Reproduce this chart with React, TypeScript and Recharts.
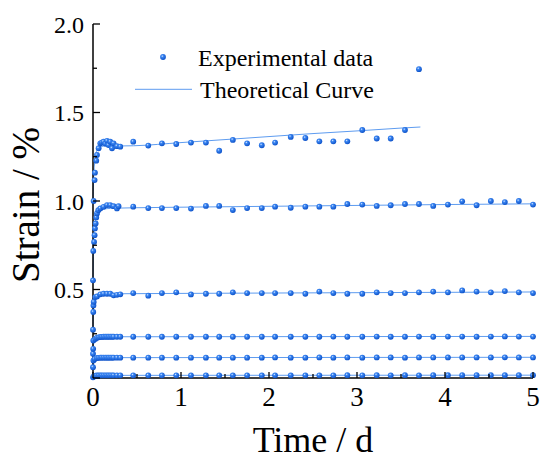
import React from 'react';
import { ComposedChart, Line, Scatter, XAxis, YAxis, Legend } from 'recharts';

// ---------- data ----------
// long-term sampling times (d)
const T_LONG = [0.457, 0.628, 0.783, 0.946, 1.113, 1.283, 1.434, 1.589, 1.751, 1.918, 2.069, 2.247, 2.413, 2.572, 2.731, 2.89, 3.06, 3.224, 3.383, 3.545, 3.704, 3.866, 4.033, 4.195, 4.359, 4.521, 4.68, 4.839, 5.0];

// series 1 (highest load) – early part
const S1_EARLY_T = [0.007, 0.018, 0.022, 0.037, 0.045, 0.064, 0.083, 0.1, 0.12, 0.14, 0.159, 0.177, 0.196, 0.216, 0.234, 0.272, 0.31];
const S1_EARLY_V = [1.0, 1.118, 1.16, 1.228, 1.26, 1.298, 1.326, 1.33, 1.335, 1.325, 1.34, 1.316, 1.335, 1.298, 1.326, 1.31, 1.307];
const S1_LONG_V = [1.335, 1.313, 1.326, 1.322, 1.33, 1.33, 1.284, 1.345, 1.326, 1.315, 1.33, 1.362, 1.356, 1.337, 1.337, 1.337, 1.401, 1.353, 1.353, 1.401, 1.745];

const S2_EARLY_T = [0.0, 0.003, 0.012, 0.018, 0.022, 0.03, 0.037, 0.045, 0.06, 0.083, 0.12, 0.159, 0.196, 0.234, 0.272, 0.29];
const S2_EARLY_V = [0.552, 0.718, 0.769, 0.807, 0.845, 0.873, 0.907, 0.93, 0.948, 0.958, 0.967, 0.977, 0.977, 0.971, 0.958, 0.971];
const S2_LONG_V = [0.968, 0.96, 0.96, 0.96, 0.957, 0.972, 0.972, 0.949, 0.96, 0.96, 0.968, 0.962, 0.968, 0.968, 0.968, 0.983, 0.98, 0.972, 0.976, 0.983, 0.983, 0.972, 0.98, 0.998, 0.976, 1.0, 0.994, 1.0, 0.98];

const S3_EARLY_T = [0.0, 0.003, 0.005, 0.008, 0.026, 0.045, 0.083, 0.12, 0.159, 0.196, 0.234, 0.272, 0.31];
const S3_EARLY_V = [0.273, 0.373, 0.41, 0.43, 0.457, 0.461, 0.473, 0.476, 0.476, 0.476, 0.467, 0.47, 0.473];
const S3_LONG_V = [0.48, 0.465, 0.48, 0.484, 0.472, 0.476, 0.476, 0.484, 0.48, 0.48, 0.48, 0.48, 0.476, 0.488, 0.48, 0.476, 0.476, 0.484, 0.48, 0.48, 0.484, 0.488, 0.484, 0.495, 0.488, 0.484, 0.491, 0.484, 0.48];

const S4_EARLY_T = [0.0, 0.002, 0.004, 0.026, 0.045, 0.064, 0.083, 0.1, 0.12, 0.14, 0.159, 0.177, 0.196, 0.216, 0.234, 0.272, 0.31];
const S4_EARLY_V = [0.137, 0.165, 0.212, 0.221, 0.228, 0.23, 0.232, 0.232, 0.233, 0.233, 0.233, 0.233, 0.233, 0.233, 0.233, 0.233, 0.233];
const S4_LONG_V = [0.233, 0.233, 0.233, 0.233, 0.233, 0.233, 0.233, 0.233, 0.233, 0.233, 0.233, 0.233, 0.233, 0.233, 0.234, 0.233, 0.233, 0.234, 0.233, 0.233, 0.234, 0.233, 0.234, 0.234, 0.233, 0.234, 0.235, 0.234, 0.234];

const S5_EARLY_T = [0.0, 0.005, 0.02, 0.045, 0.064, 0.083, 0.1, 0.12, 0.14, 0.159, 0.177, 0.196, 0.216, 0.234, 0.272, 0.31];
const S5_EARLY_V = [0.061, 0.099, 0.108, 0.113, 0.114, 0.115, 0.115, 0.115, 0.115, 0.115, 0.115, 0.115, 0.115, 0.115, 0.115, 0.115];
const S5_LONG_V = [0.115, 0.115, 0.115, 0.115, 0.115, 0.115, 0.115, 0.115, 0.115, 0.115, 0.116, 0.115, 0.115, 0.116, 0.115, 0.116, 0.115, 0.116, 0.116, 0.115, 0.116, 0.116, 0.116, 0.116, 0.116, 0.116, 0.117, 0.116, 0.116];

const S6_EARLY_T = [0.0, 0.01, 0.03, 0.045, 0.064, 0.083, 0.1, 0.12, 0.14, 0.159, 0.177, 0.196, 0.216, 0.234, 0.272, 0.31];
const S6_EARLY_V = [0.004, 0.01, 0.013, 0.014, 0.014, 0.015, 0.015, 0.015, 0.015, 0.015, 0.015, 0.015, 0.015, 0.015, 0.015, 0.015];
const S6_LONG_V = [0.015, 0.015, 0.015, 0.015, 0.015, 0.015, 0.015, 0.015, 0.015, 0.015, 0.015, 0.015, 0.015, 0.015, 0.015, 0.016, 0.015, 0.016, 0.015, 0.016, 0.015, 0.016, 0.016, 0.016, 0.016, 0.016, 0.016, 0.016, 0.016];

// theoretical curves
const C1_T = [0, 0.005, 0.01, 0.02, 0.03, 0.05, 0.08, 0.12, 0.2, 0.3, 0.46, 1, 1.5, 2, 2.5, 3, 3.5, 3.72];
const C1_V = [1.0, 1.1, 1.16, 1.22, 1.26, 1.29, 1.305, 1.31, 1.31, 1.311, 1.312, 1.33, 1.347, 1.364, 1.381, 1.396, 1.412, 1.418];
const C2_T = [0, 0.005, 0.01, 0.02, 0.03, 0.05, 0.08, 0.12, 0.2, 0.3, 0.5, 1, 2, 3, 4, 5];
const C2_V = [0.55, 0.72, 0.79, 0.85, 0.9, 0.935, 0.95, 0.955, 0.958, 0.96, 0.962, 0.965, 0.97, 0.975, 0.98, 0.984];
const C3_T = [0, 0.003, 0.01, 0.02, 0.04, 0.08, 0.15, 0.3, 1, 2, 3, 4, 5];
const C3_V = [0.273, 0.37, 0.42, 0.45, 0.465, 0.472, 0.474, 0.476, 0.478, 0.48, 0.482, 0.484, 0.486];
const C4_T = [0, 0.003, 0.01, 0.03, 0.08, 0.3, 5];
const C4_V = [0.137, 0.19, 0.215, 0.228, 0.232, 0.233, 0.235];
const C5_T = [0, 0.005, 0.02, 0.06, 0.3, 5];
const C5_V = [0.061, 0.095, 0.108, 0.113, 0.115, 0.117];
const C6_T = [0, 0.01, 0.04, 0.3, 5];
const C6_V = [0.004, 0.01, 0.013, 0.015, 0.016];

const X_TICKS = [0, 0.5, 1, 1.5, 2, 2.5, 3, 3.5, 4, 4.5, 5];
const Y_TICKS = [0, 0.25, 0.5, 0.75, 1, 1.25, 1.5, 1.75, 2];
const LEGEND_LABELS = ['Experimental data', 'Theoretical Curve'];

// ---------- helpers ----------
const pts = (ts: number[], vs: number[]) => vs.map((v, i) => ({ t: ts[i], v }));
const EXP_SERIES = [
  [...pts(S1_EARLY_T, S1_EARLY_V), ...pts(T_LONG, S1_LONG_V)],
  [...pts(S2_EARLY_T, S2_EARLY_V), ...pts(T_LONG, S2_LONG_V)],
  [...pts(S3_EARLY_T, S3_EARLY_V), ...pts(T_LONG, S3_LONG_V)],
  [...pts(S4_EARLY_T, S4_EARLY_V), ...pts(T_LONG, S4_LONG_V)],
  [...pts(S5_EARLY_T, S5_EARLY_V), ...pts(T_LONG, S5_LONG_V)],
  [...pts(S6_EARLY_T, S6_EARLY_V), ...pts(T_LONG, S6_LONG_V)],
];
const CURVES = [pts(C1_T, C1_V), pts(C2_T, C2_V), pts(C3_T, C3_V), pts(C4_T, C4_V), pts(C5_T, C5_V), pts(C6_T, C6_V)];

const FONT = '"Liberation Serif", "Times New Roman", serif';
const LINE_COLOR = '#5e9cf0';
const DOT_R = 2.9;

const GradStops = () => (
  <>
    <stop offset="0%" stopColor="#d6e6ff" />
    <stop offset="30%" stopColor="#3b86f2" />
    <stop offset="100%" stopColor="#0d52c9" />
  </>
);

const Ball = (props: any) => {
  const { cx, cy } = props;
  if (cx == null || cy == null) return null;
  return <circle cx={cx} cy={cy} r={DOT_R} fill="url(#ballGrad)" />;
};

const isMajor = (v: number, step: number) => Math.abs(v / step - Math.round(v / step)) < 1e-6;

const YTick = (props: any) => {
  const { x, y, payload } = props;
  const v = payload.value as number;
  const major = isMajor(v, 0.5);
  return (
    <g>
      <line x1={x} x2={x + (major ? 7 : 4)} y1={y} y2={y} stroke="#000" strokeWidth={1.3} />
      {major && v !== 0 && (
        <text x={x - 9} y={y + 8.5} textAnchor="end" fontFamily={FONT} fontSize={24} fill="#000">
          {v.toFixed(1)}
        </text>
      )}
    </g>
  );
};

const XTick = (props: any) => {
  const { x, y, payload } = props;
  const v = payload.value as number;
  const major = isMajor(v, 1);
  return (
    <g>
      <line x1={x} x2={x} y1={y} y2={y - (major ? 6 : 4)} stroke="#000" strokeWidth={1.3} />
      {major && (
        <text x={x} y={y + 28} textAnchor="middle" fontFamily={FONT} fontSize={27} fill="#000">
          {String(v)}
        </text>
      )}
    </g>
  );
};

const LegendBox = () => (
  <svg width={550} height={110} style={{ overflow: 'visible', display: 'block' }}>
    <defs>
      <radialGradient id="ballGradL" cx="38%" cy="35%" r="65%">
        <GradStops />
      </radialGradient>
    </defs>
    <circle cx={163} cy={57} r={DOT_R} fill="url(#ballGradL)" />
    <text x={198} y={65.5} fontFamily={FONT} fontSize={24} fill="#000">{LEGEND_LABELS[0]}</text>
    <line x1={135} x2={192} y1={89.3} y2={89.3} stroke={LINE_COLOR} strokeWidth={1} />
    <text x={200} y={97.5} fontFamily={FONT} fontSize={24} fill="#000">{LEGEND_LABELS[1]}</text>
  </svg>
);

export default function App() {
  return (
    <div style={{ position: 'absolute', left: 0, top: 0, width: 550, height: 462, background: '#fff' }}>
      <ComposedChart width={550} height={462} margin={{ top: 24, right: 17, bottom: 0, left: 0 }}>
        <defs>
          <radialGradient id="ballGrad" cx="38%" cy="35%" r="65%">
            <GradStops />
          </radialGradient>
        </defs>
        <XAxis
          type="number"
          dataKey="t"
          domain={[0, 5]}
          ticks={X_TICKS}
          interval={0}
          height={84}
          tickSize={0}
          tickMargin={0}
          tickLine={false}
          axisLine={{ stroke: '#000', strokeWidth: 1.5 }}
          tick={<XTick />}
          label={{
            content: (p: any) => {
              const vb = p.viewBox || {};
              return (
                <text x={vb.x + vb.width / 2} y={vb.y + 73.5} textAnchor="middle" fontFamily={FONT} fontSize={36} fill="#000">
                  Time / d
                </text>
              );
            },
          }}
        />
        <YAxis
          type="number"
          dataKey="v"
          domain={[0, 2]}
          ticks={Y_TICKS}
          interval={0}
          width={93}
          tickSize={0}
          tickMargin={0}
          tickLine={false}
          axisLine={{ stroke: '#000', strokeWidth: 1.5 }}
          tick={<YTick />}
          label={{
            content: () => {
              const cy = 205;
              return (
                <text x={39} y={cy} transform={`rotate(-90 39 ${cy})`} textAnchor="middle" fontFamily={FONT} fontSize={39} fill="#000">
                  Strain / %
                </text>
              );
            },
          }}
        />
        <Legend
          layout="horizontal"
          verticalAlign="middle"
          align="center"
          wrapperStyle={{ left: 0, top: 0, width: 550, height: 110 }}
          content={() => <LegendBox />}
        />
        {CURVES.map((c, i) => (
          <Line
            key={'c' + i}
            data={c}
            dataKey="v"
            type="monotone"
            stroke={LINE_COLOR}
            strokeWidth={1}
            dot={false}
            activeDot={false}
            legendType="none"
            isAnimationActive={false}
          />
        ))}
        {EXP_SERIES.map((s, i) => (
          <Scatter
            key={'s' + i}
            data={s}
            dataKey="v"
            shape={<Ball />}
            legendType="none"
            isAnimationActive={false}
          />
        ))}
      </ComposedChart>
    </div>
  );
}
